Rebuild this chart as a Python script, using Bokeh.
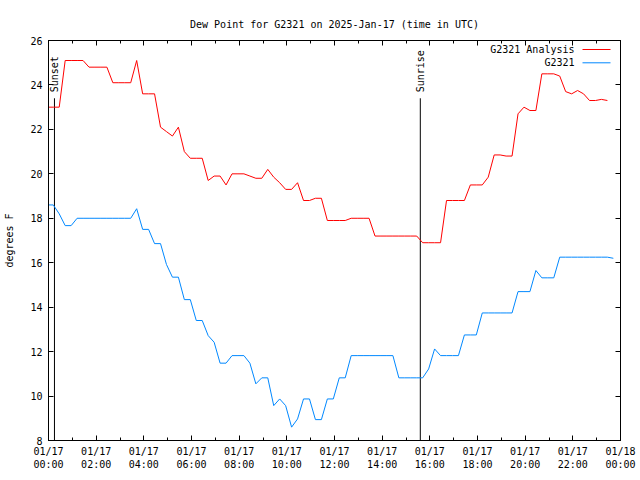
from bokeh.plotting import figure
from bokeh.models import LinearAxis, FixedTicker, Label, Arrow, Range1d, ColumnDataSource
from bokeh.core.properties import value
from bokeh.embed import file_html
from bokeh.resources import INLINE

# ---------------- data ----------------
title_text = "Dew Point for G2321 on 2025-Jan-17 (time in UTC)"
y_label = "degrees F"

first_obs_hour = -0.05        # 23:57 on the previous day
obs_interval_hours = 0.25     # quarter-hourly observations

analysis_name = "G2321 Analysis"
analysis_values = [
    23.0, 23.0, 23.0, 25.1, 25.1, 25.1, 25.1, 24.8, 24.8, 24.8,
    24.8, 24.1, 24.1, 24.1, 24.1, 25.1, 23.6, 23.6, 23.6, 22.1,
    21.9, 21.7, 22.1, 21.0, 20.7, 20.7, 20.7, 19.7, 19.9, 19.9,
    19.5, 20.0, 20.0, 20.0, 19.9, 19.8, 19.8, 20.2, 19.85, 19.6,
    19.3, 19.3, 19.6, 18.8, 18.8, 18.9, 18.9, 17.9, 17.9, 17.9,
    17.9, 18.0, 18.0, 18.0, 18.0, 17.2, 17.2, 17.2, 17.2, 17.2,
    17.2, 17.2, 17.2, 16.9, 16.9, 16.9, 16.9, 18.8, 18.8, 18.8,
    18.8, 19.5, 19.5, 19.5, 19.85, 20.85, 20.85, 20.8, 20.8, 22.7,
    23.0, 22.85, 22.85, 24.5, 24.5, 24.5, 24.4, 23.7, 23.6, 23.75,
    23.6, 23.3, 23.3, 23.35, 23.3,
]

station_name = "G2321"
station_values = [
    18.6, 18.6, 18.2, 17.67, 17.67, 18.0, 18.0, 18.0, 18.0, 18.0,
    18.0, 18.0, 18.0, 18.0, 18.0, 18.43, 17.5, 17.5, 16.86, 16.86,
    15.92, 15.35, 15.35, 14.34, 14.34, 13.4, 13.4, 12.72, 12.42, 11.48,
    11.48, 11.82, 11.82, 11.82, 11.48, 10.55, 10.82, 10.82, 9.57, 9.87,
    9.57, 8.6, 8.97, 9.87, 9.87, 8.94, 8.94, 9.87, 9.87, 10.82,
    10.82, 11.82, 11.82, 11.82, 11.82, 11.82, 11.82, 11.82, 11.82, 10.82,
    10.82, 10.82, 10.82, 10.82, 11.22, 12.12, 11.82, 11.82, 11.82, 11.82,
    12.75, 12.75, 12.75, 13.74, 13.74, 13.74, 13.74, 13.74, 13.74, 14.7,
    14.7, 14.7, 15.65, 15.32, 15.32, 15.32, 16.25, 16.25, 16.25, 16.25,
    16.25, 16.25, 16.25, 16.25, 16.25, 16.2,
]

event_names = ["Sunset", "Sunrise"]
event_hours = [0.25, 15.6]
event_line_top = 23.4

x_tick_hours = [0, 2, 4, 6, 8, 10, 12, 14, 16, 18, 20, 22, 24]
x_tick_labels = ["01/17\n00:00", "01/17\n02:00", "01/17\n04:00", "01/17\n06:00",
                 "01/17\n08:00", "01/17\n10:00", "01/17\n12:00", "01/17\n14:00",
                 "01/17\n16:00", "01/17\n18:00", "01/17\n20:00", "01/17\n22:00",
                 "01/18\n00:00"]
x_minor_hours = list(range(0, 25))
y_ticks = [8, 10, 12, 14, 16, 18, 20, 22, 24, 26]

# ---------------- build ----------------
FONT = "DejaVu Sans Mono"
FS = "10px"
RED = "#ff0000"
BLUE = "#0088ff"

analysis_hours = [first_obs_hour + obs_interval_hours * k for k in range(len(analysis_values))]
station_hours = [first_obs_hour + obs_interval_hours * k for k in range(len(station_values))]

p = figure(width=640, height=480, output_backend="svg", toolbar_location=None,
           x_range=Range1d(0, 24), y_range=Range1d(8, 26),
           x_axis_type=None, y_axis_type=None,
           min_border_left=48, min_border_right=20, min_border_top=40, min_border_bottom=40)
p.xgrid.visible = False
p.ygrid.visible = False
p.outline_line_color = "black"
p.background_fill_color = "white"
p.border_fill_color = "white"

p.title.text = title_text
p.title.align = "center"
p.title.text_font = FONT
p.title.text_font_size = FS
p.title.text_font_style = "normal"
p.title.text_color = "black"
p.title.standoff = 21

def style_axis(ax):
    ax.axis_line_color = "black"
    ax.major_tick_line_color = "black"
    ax.minor_tick_line_color = "black"
    ax.major_tick_in = 5
    ax.major_tick_out = 0
    ax.minor_tick_in = 3
    ax.minor_tick_out = 0
    ax.major_label_text_font = FONT
    ax.major_label_text_font_size = FS
    ax.major_label_text_color = "black"

xt = FixedTicker(ticks=x_tick_hours, minor_ticks=x_minor_hours)
yt = FixedTicker(ticks=y_ticks, minor_ticks=[])

bx = LinearAxis(ticker=xt)
style_axis(bx)
bx.major_label_overrides = {h: lab for h, lab in zip(x_tick_hours, x_tick_labels)}
bx.major_label_standoff = 5
p.add_layout(bx, "below")

tx = LinearAxis(ticker=xt)
style_axis(tx)
tx.major_label_overrides = {h: "" for h in x_tick_hours}
tx.major_label_standoff = 0
p.add_layout(tx, "above")

ly = LinearAxis(ticker=yt, axis_label=y_label)
style_axis(ly)
ly.major_label_standoff = 6
ly.axis_label_text_font = FONT
ly.axis_label_text_font_size = FS
ly.axis_label_text_font_style = "normal"
ly.axis_label_text_color = "black"
ly.axis_label_standoff = 12
p.add_layout(ly, "left")

ry = LinearAxis(ticker=yt)
style_axis(ry)
ry.major_label_overrides = {v: "" for v in y_ticks}
ry.major_label_standoff = 0
p.add_layout(ry, "right")

# event markers
ev = ColumnDataSource(dict(x=event_hours, name=event_names,
                           y0=[8] * len(event_hours), y1=[event_line_top] * len(event_hours),
                           ty=[event_line_top + 0.27] * len(event_hours)))
p.segment(x0="x", y0="y0", x1="x", y1="y1", source=ev, line_color="black", line_width=1)
p.text(x="x", y="ty", text="name", source=ev, angle=1.5707963, text_align="left",
       text_baseline="middle", text_font=value(FONT), text_font_size=value(FS), text_color="black")

# series
p.line(analysis_hours, analysis_values, line_color=RED, line_width=1)
p.line(station_hours, station_values, line_color=BLUE, line_width=1)

# gnuplot-style key (text left, sample right)
for i, (name, col) in enumerate([(analysis_name, RED), (station_name, BLUE)]):
    yy = 391 - 13.3 * i
    p.add_layout(Label(x=526, y=yy, x_units="screen", y_units="screen", text=name,
                       text_align="right", text_baseline="middle", text_font=FONT,
                       text_font_size=FS, text_color="black"))
    p.add_layout(Arrow(x_start=534, y_start=yy, x_end=562, y_end=yy,
                       start_units="screen", end_units="screen", end=None,
                       line_color=col, line_width=1))

open("out.html", "w").write(file_html(p, INLINE))
